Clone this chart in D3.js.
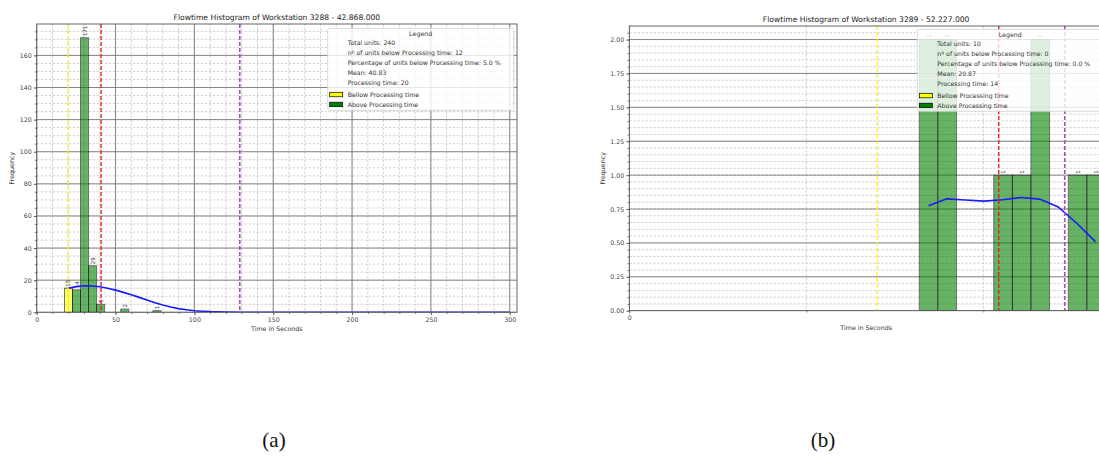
<!DOCTYPE html>
<html>
<head>
<meta charset="utf-8">
<script src="https://cdn.jsdelivr.net/npm/d3@7"></script>
<style>
  body { margin: 0; background: #fff; }
  svg { display: block; font-family: "DejaVu Sans", sans-serif; }
</style>
</head>
<body>
<svg id="figure" width="1099" height="461"></svg>
<script>
// ---- panel (a) data ----
const titleA = "Flowtime Histogram of Workstation 3288 - 42.868.000";
const binEdgesA = [17.6, 22.7, 27.8, 32.9, 38.0, 43.1, 48.2, 53.3, 58.4, 63.5, 68.6, 73.7, 78.8];
const countsA = [15, 14, 171, 29, 5, 0, 0, 2, 0, 0, 0, 1];
const curveXA = [20, 25, 30, 35, 40, 45, 50, 55, 60, 65, 70, 75, 80, 85, 90, 95, 100, 105, 110, 120, 130, 140, 200, 250, 300];
const curveYA = [15.0, 16.0, 16.5, 16.4, 15.9, 15.0, 13.8, 12.4, 10.9, 9.3, 7.6, 5.9, 4.5, 3.3, 2.3, 1.6, 1.0, 0.7, 0.45, 0.2, 0.05, 0, 0, 0, 0];
const processingTimeA = 20;
const meanA = 40.83;
const upperLineA = 128.8;
const xTicksA = [0, 50, 100, 150, 200, 250, 300];
const yTicksA = [0, 20, 40, 60, 80, 100, 120, 140, 160];
const legendA = [
  "Total units: 240",
  "nº of units below Processing time: 12",
  "Percentage of units below Processing time: 5.0 %",
  "Mean: 40.83",
  "Processing time: 20"
];

// ---- panel (b) data ----
const titleB = "Flowtime Histogram of Workstation 3289 - 52.227.000";
const binEdgesB = [16.38, 17.43, 18.48, 19.54, 20.59, 21.64, 22.69, 23.74, 24.8, 25.85, 26.9];
const countsB = [2, 2, 0, 0, 1, 1, 2, 0, 1, 1];
const curveXB = [16.9, 17.93, 18.98, 20.03, 21.08, 22.13, 23.18, 24.23, 25.28, 26.33];
const curveYB = [0.775, 0.825, 0.816, 0.808, 0.818, 0.835, 0.823, 0.765, 0.645, 0.51];
const processingTimeB = 14;
const meanB = 20.87;
const upperLineB = 24.6;
const xTicksB = [0];
const yTicksB = [0, 0.25, 0.5, 0.75, 1.0, 1.25, 1.5, 1.75, 2.0];
const legendB = [
  "Total units: 10",
  "nº of units below Processing time: 0",
  "Percentage of units below Processing time: 0.0 %",
  "Mean: 20.87",
  "Processing time: 14"
];

const patchLabels = ["Bellow Processing time", "Above Processing time"];

const svg = d3.select("#figure");

function drawPanel(opt) {
  const x = d3.scaleLinear().domain(opt.xDomain).range([opt.left, opt.right]);
  const y = d3.scaleLinear().domain(opt.yDomain).range([opt.bottom, opt.top]);
  const g = svg.append("g");

  // clip everything to the plot area
  const clipId = "clip-" + opt.id;
  g.append("clipPath").attr("id", clipId)
    .append("rect")
    .attr("x", opt.left).attr("y", opt.top)
    .attr("width", opt.right - opt.left).attr("height", opt.bottom - opt.top);
  const plot = g.append("g").attr("clip-path", `url(#${clipId})`);

  // minor grid (dashed)
  plot.append("g").selectAll("line")
    .data(opt.xMinor)
    .join("line")
    .attr("x1", d => x(d)).attr("x2", d => x(d))
    .attr("y1", opt.top).attr("y2", opt.bottom)
    .attr("stroke", "#b4b4b4").attr("stroke-width", 0.6)
    .attr("stroke-dasharray", "2.5,1.5");
  plot.append("g").selectAll("line")
    .data(opt.yMinor)
    .join("line")
    .attr("x1", opt.left).attr("x2", opt.right)
    .attr("y1", d => y(d)).attr("y2", d => y(d))
    .attr("stroke", "#b4b4b4").attr("stroke-width", 0.6)
    .attr("stroke-dasharray", "2.5,1.5");

  // major grid (solid)
  plot.append("g").selectAll("line")
    .data(opt.xTicks)
    .join("line")
    .attr("x1", d => x(d)).attr("x2", d => x(d))
    .attr("y1", opt.top).attr("y2", opt.bottom)
    .attr("stroke", "#7a7a7a").attr("stroke-width", 0.9);
  plot.append("g").selectAll("line")
    .data(opt.yTicks)
    .join("line")
    .attr("x1", opt.left).attr("x2", opt.right)
    .attr("y1", d => y(d)).attr("y2", d => y(d))
    .attr("stroke", "#7a7a7a").attr("stroke-width", 0.9);

  // histogram bars
  const bins = opt.counts.map((c, i) => ({ x0: opt.edges[i], x1: opt.edges[i + 1], count: c }))
    .filter(d => d.count > 0);
  plot.append("g").selectAll("rect")
    .data(bins)
    .join("rect")
    .attr("x", d => x(d.x0))
    .attr("width", d => x(d.x1) - x(d.x0))
    .attr("y", d => y(d.count))
    .attr("height", d => y(0) - y(d.count))
    .attr("fill", d => d.x0 < opt.processingTime ? "yellow" : "green")
    .attr("stroke", "#000")
    .attr("stroke-width", 0.9)
    .attr("opacity", 0.6);

  // count labels on top of the bars
  plot.append("g").selectAll("text")
    .data(bins)
    .join("text")
    .attr("transform", d => `translate(${(x(d.x0) + x(d.x1)) / 2 + 2},${y(d.count) - 1.5}) rotate(-90)`)
    .attr("font-size", 5.5)
    .attr("fill", "#333")
    .text(d => d.count);

  // distribution curve
  const line = d3.line().x(d => x(d[0])).y(d => y(d[1]));
  plot.append("path")
    .datum(opt.curveX.map((v, i) => [v, opt.curveY[i]]))
    .attr("fill", "none")
    .attr("stroke", "#1a1aff")
    .attr("stroke-width", 1.6)
    .attr("d", line);

  // reference lines
  const refs = [
    { v: opt.processingTime, c: "#f5f020", w: 1.3 },
    { v: opt.mean, c: "#e8211c", w: 1.4 },
    { v: opt.upper, c: "#b048c0", w: 1.6 }
  ];
  plot.append("g").selectAll("line")
    .data(refs)
    .join("line")
    .attr("x1", d => x(d.v)).attr("x2", d => x(d.v))
    .attr("y1", opt.top).attr("y2", opt.bottom)
    .attr("stroke", d => d.c).attr("stroke-width", d => d.w)
    .attr("stroke-dasharray", "4,2");

  // axes
  const xAxis = g.append("g")
    .attr("transform", `translate(0,${opt.bottom})`)
    .call(d3.axisBottom(x).tickValues(opt.xTicks).tickSize(3).tickPadding(2).tickFormat(d3.format("d")));
  g.append("g")
    .attr("transform", `translate(0,${opt.bottom})`)
    .call(d3.axisBottom(x).tickValues(opt.xMinor).tickSize(1.8).tickFormat(""));
  const yAxis = g.append("g")
    .attr("transform", `translate(${opt.left},0)`)
    .call(d3.axisLeft(y).tickValues(opt.yTicks).tickSize(3).tickPadding(2).tickFormat(opt.yFormat));
  g.append("g")
    .attr("transform", `translate(${opt.left},0)`)
    .call(d3.axisLeft(y).tickValues(opt.yMinor).tickSize(1.8).tickFormat(""));
  g.selectAll(".domain").remove();
  g.selectAll(".tick line").attr("stroke", "#444").attr("stroke-width", 0.7);
  g.selectAll(".tick text").attr("font-size", 6.3).attr("fill", "#444")
    .attr("font-family", "DejaVu Sans, sans-serif");

  // frame
  g.append("rect")
    .attr("x", opt.left).attr("y", opt.top)
    .attr("width", opt.right - opt.left).attr("height", opt.bottom - opt.top)
    .attr("fill", "none").attr("stroke", "#555").attr("stroke-width", 0.9);

  // title and axis labels
  g.append("text")
    .attr("x", (opt.left + opt.right) / 2).attr("y", opt.top - 4.5)
    .attr("text-anchor", "middle").attr("font-size", 7.6).attr("fill", "#222")
    .text(opt.title);
  g.append("text")
    .attr("x", (opt.left + opt.right) / 2).attr("y", opt.bottom + 19)
    .attr("text-anchor", "middle").attr("font-size", 6.3).attr("fill", "#333")
    .text("Time in Seconds");
  g.append("text")
    .attr("transform", `translate(${opt.yLabelX},${(opt.top + opt.bottom) / 2}) rotate(-90)`)
    .attr("text-anchor", "middle").attr("font-size", 6.3).attr("fill", "#333")
    .text("Frequency");

  // legend box (semi transparent, drawn above the data)
  const lg = g.append("g").attr("transform", `translate(${opt.legendX},${opt.legendY})`);
  lg.append("rect")
    .attr("width", 186).attr("height", 82).attr("rx", 2)
    .attr("fill", "#fff").attr("fill-opacity", 0.8)
    .attr("stroke", "#d0d0d0").attr("stroke-width", 0.8);
  lg.append("text")
    .attr("x", 93).attr("y", 7.5)
    .attr("text-anchor", "middle").attr("font-size", 6.3).attr("fill", "#333")
    .text("Legend");
  lg.selectAll("text.info")
    .data(opt.legend)
    .join("text")
    .attr("class", "info")
    .attr("x", 20).attr("y", (d, i) => 17 + i * 9.9)
    .attr("font-size", 6.2).attr("fill", "#333")
    .text(d => d);
  const patches = lg.selectAll("g.patch")
    .data(patchLabels)
    .join("g")
    .attr("class", "patch")
    .attr("transform", (d, i) => `translate(0,${66.5 + i * 9.9})`);
  patches.append("rect")
    .attr("x", 2).attr("y", -2.5).attr("width", 13).attr("height", 4.5)
    .attr("fill", (d, i) => i === 0 ? "yellow" : "green")
    .attr("stroke", "#000").attr("stroke-width", 0.7);
  patches.append("text")
    .attr("x", 20).attr("y", 2.2)
    .attr("font-size", 6.2).attr("fill", "#333")
    .text(d => d);
}

drawPanel({
  id: "a", title: titleA,
  left: 36.7, right: 517, top: 24, bottom: 312.3,
  xDomain: [0, 304.6], yDomain: [0, 179.55],
  xTicks: xTicksA, yTicks: yTicksA,
  xMinor: d3.range(0, 305, 10), yMinor: d3.range(0, 180, 5),
  yFormat: d3.format("d"),
  edges: binEdgesA, counts: countsA,
  curveX: curveXA, curveY: curveYA,
  processingTime: processingTimeA, mean: meanA, upper: upperLineA,
  legend: legendA, legendX: 327.7, legendY: 28.3, yLabelX: 14
});

drawPanel({
  id: "b", title: titleB,
  left: 629.3, right: 1103, top: 26, bottom: 310.7,
  xDomain: [0, 26.76], yDomain: [0, 2.1],
  xTicks: xTicksB, yTicks: yTicksB,
  xMinor: [10, 20], yMinor: d3.range(0, 2.1, 0.05),
  yFormat: d3.format(".2f"),
  edges: binEdgesB, counts: countsB,
  curveX: curveXB, curveY: curveYB,
  processingTime: processingTimeB, mean: meanB, upper: upperLineB,
  legend: legendB, legendX: 917.3, legendY: 29.3, yLabelX: 605
});

// sub-figure captions
svg.selectAll("text.caption")
  .data(["(a)", "(b)"])
  .join("text")
  .attr("class", "caption")
  .attr("x", (d, i) => i === 0 ? 274 : 823)
  .attr("y", 447)
  .attr("text-anchor", "middle")
  .attr("font-family", "Liberation Serif, serif")
  .attr("font-size", 21)
  .attr("fill", "#111")
  .text(d => d);
</script>
</body>
</html>
